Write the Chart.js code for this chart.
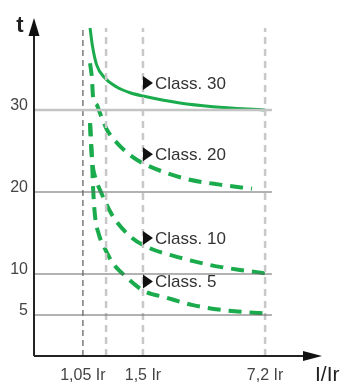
<!DOCTYPE html>
<html>
<head>
<meta charset="utf-8">
<script src="https://cdn.jsdelivr.net/npm/chart.js@4.4.1/dist/chart.umd.min.js"></script>
<style>
body{margin:0;background:#fff}
</style>
</head>
<body>
<canvas id="c" width="345" height="383"></canvas>
<script>
// x is a position along the I/Ir axis (0..100), y is t
const yTicks=[5,10,20,30]
const xTickPos=[17.1,38.1,80.8]
const xTickLabels=["1,05 Ir","1,5 Ir","7,2 Ir"]
const extraLine=25.2
const gridEnd=83.2

const class30x=[19.6,20.4,21.9,24.8,28.9,33.6,38.1,51.0,62.6,80.8]
const class30y=[40,37.9,35.5,33.9,32.8,32.1,31.7,30.85,30.4,30.0]
const class20x=[19.6,20.3,20.6,22.0,23.1,25.5,29.0,33.6,38.1,46.5,54.5,65.0,76.2]
const class20y=[35.7,33.7,31.8,30.6,29.6,27.6,26.0,24.5,23.5,22.3,21.5,20.9,20.4]
const class10x=[19.6,19.9,20.3,21.7,23.4,27.3,33.6,39.5,51.0,61.5,72.0,80.8]
const class10y=[28.4,26.3,23.9,21.5,20.0,17.2,14.6,13.3,12.0,11.1,10.5,10.1]
const class5x=[19.6,19.9,20.3,20.6,21.3,22.7,24.5,27.6,30.8,38.1,46.5,55.6,66.1,80.1]
const class5y=[28.4,26.3,23.9,20.9,17.2,14.8,13.3,11.3,10.1,8.0,7.1,6.2,5.6,5.2]

const classNames=["Class. 30","Class. 20","Class. 10","Class. 5"]
const labelT=[33.3,24.6,14.4,9.1]
const labelX=38.1

const green="#1aab4c"

function pts(xs,ys){ return xs.map((x,i)=>({x:x,y:ys[i]})) }

let datasets=[]

yTicks.forEach(t=>{
  datasets.push({
    data:[{x:0,y:t},{x:gridEnd,y:t}],
    borderColor: t==30 ? "#c4c4c4" : "#666",
    borderWidth: t==30 ? 2.5 : 1.2,
    pointRadius:0
  })
})

xTickPos.concat([extraLine]).forEach(v=>{
  let dark = v==xTickPos[0]
  datasets.push({
    data:[{x:v,y:0},{x:v,y:40}],
    borderColor: dark ? "#666" : "#c8c8c8",
    borderWidth: dark ? 1.3 : 2.5,
    borderDash: dark ? [6,4] : [7,5],
    pointRadius:0
  })
})

datasets.push({data:pts(class30x,class30y),borderColor:green,borderWidth:3,cubicInterpolationMode:"monotone",pointRadius:0})
datasets.push({data:pts(class20x,class20y),borderColor:green,borderWidth:4,borderDash:[13,8],cubicInterpolationMode:"monotone",pointRadius:0})
datasets.push({data:pts(class10x,class10y),borderColor:green,borderWidth:4,borderDash:[13,8],cubicInterpolationMode:"monotone",pointRadius:0})
datasets.push({data:pts(class5x,class5y),borderColor:green,borderWidth:4,borderDash:[13,8],cubicInterpolationMode:"monotone",pointRadius:0})

const extras={
  id:"extras",
  afterDatasetsDraw(chart){
    let ctx=chart.ctx
    let a=chart.chartArea
    let xs=chart.scales.x, ys=chart.scales.y
    ctx.save()

    // axes with arrows
    ctx.strokeStyle="#222"
    ctx.fillStyle="#111"
    ctx.lineWidth=2
    ctx.beginPath()
    ctx.moveTo(a.left,a.bottom)
    ctx.lineTo(a.left,30)
    ctx.moveTo(a.left,a.bottom)
    ctx.lineTo(310,a.bottom)
    ctx.stroke()
    ctx.beginPath()
    ctx.moveTo(a.left,18)
    ctx.lineTo(a.left-5.5,36)
    ctx.lineTo(a.left+5.5,36)
    ctx.closePath()
    ctx.fill()
    ctx.beginPath()
    ctx.moveTo(322,a.bottom)
    ctx.lineTo(303,a.bottom-5)
    ctx.lineTo(303,a.bottom+5)
    ctx.closePath()
    ctx.fill()

    ctx.fillStyle="#222"
    ctx.font="bold 22px 'Liberation Sans', Arial, sans-serif"
    ctx.textAlign="center"
    ctx.textBaseline="alphabetic"
    ctx.fillText("t",20,32)
    ctx.font="21px 'Liberation Sans', Arial, sans-serif"
    ctx.textAlign="left"
    ctx.fillText("I/Ir",315,381)

    // class labels
    classNames.forEach((name,i)=>{
      let px=xs.getPixelForValue(labelX)
      let py=ys.getPixelForValue(labelT[i])
      ctx.fillStyle="#111"
      ctx.beginPath()
      ctx.moveTo(px,py-7)
      ctx.lineTo(px+10,py)
      ctx.lineTo(px,py+7)
      ctx.closePath()
      ctx.fill()
      ctx.fillStyle="#333"
      ctx.font="17px 'Liberation Sans', Arial, sans-serif"
      ctx.textBaseline="middle"
      ctx.fillText(name,px+12,py+1)
    })
    ctx.restore()
  }
}

new Chart(document.getElementById("c"),{
  type:"line",
  data:{datasets:datasets},
  plugins:[extras],
  options:{
    responsive:false,
    animation:false,
    layout:{padding:{top:28,right:25}},
    plugins:{legend:{display:false},tooltip:{enabled:false}},
    scales:{
      x:{
        type:"linear",min:0,max:100,
        grid:{display:false,drawTicks:false},
        border:{display:false},
        afterBuildTicks:s=>{ s.ticks=xTickPos.map(v=>({value:v})) },
        afterFit:s=>{ s.height=27 },
        ticks:{
          autoSkip:false,maxRotation:0,padding:10,color:"#444",
          font:{size:16,family:"'Liberation Sans', Arial, sans-serif"},
          callback:v=>xTickLabels[xTickPos.indexOf(v)]
        }
      },
      y:{
        type:"linear",min:0,max:40,
        grid:{display:false,drawTicks:false},
        border:{display:false},
        afterBuildTicks:s=>{ s.ticks=yTicks.map(v=>({value:v})) },
        afterFit:s=>{ s.width=34 },
        ticks:{
          padding:6,labelOffset:-4,color:"#444",
          font:{size:16,family:"'Liberation Sans', Arial, sans-serif"}
        }
      }
    }
  }
})
</script>
</body>
</html>
